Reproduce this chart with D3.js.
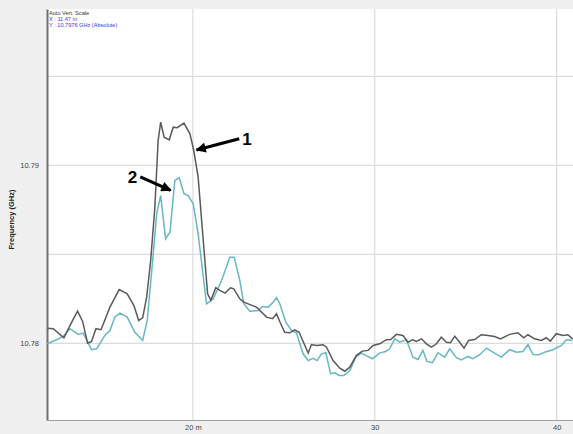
<!DOCTYPE html>
<html>
<head>
<meta charset="utf-8">
<script src="https://cdn.jsdelivr.net/npm/d3@7"></script>
<style>
  html, body { margin: 0; padding: 0; background: #f0f0f0; }
  svg { display: block; font-family: "Liberation Sans", Arial, sans-serif; }
</style>
</head>
<body>
<svg id="chart" width="573" height="434"></svg>
<script>
// Distance along the cable (m) and measured frequency (GHz)
const trace1Distance = [11.99,12.32,12.91,13.34,13.66,13.94,14.21,14.43,14.67,14.95,15.44,15.95,16.39,16.76,17.02,17.24,17.46,17.68,17.91,18.09,18.23,18.42,18.70,18.92,19.14,19.51,19.84,20.05,20.29,20.57,20.81,20.99,21.26,21.48,21.77,22.07,22.25,22.58,22.80,23.50,24.05,24.38,24.60,24.80,25.05,25.33,25.60,25.84,26.34,26.52,26.80,27.16,27.35,27.71,28.08,28.35,28.63,28.99,29.32,29.63,29.91,30.27,30.64,30.88,31.19,31.55,31.83,32.07,32.29,32.57,32.84,33.12,33.39,33.66,33.94,34.16,34.40,34.67,34.91,35.16,35.49,35.86,36.23,36.59,36.91,37.42,37.87,38.19,38.42,38.79,39.16,39.43,39.65,39.98,40.35,40.62,40.88];
const trace1Freq = [10.78086,10.78083,10.78032,10.78120,10.78181,10.78124,10.78002,10.78011,10.78083,10.78077,10.78204,10.78303,10.78279,10.78213,10.78129,10.78144,10.78260,10.78466,10.78764,10.79140,10.79243,10.79159,10.79144,10.79215,10.79212,10.79238,10.79178,10.79084,10.78934,10.78579,10.78279,10.78242,10.78313,10.78298,10.78283,10.78313,10.78307,10.78251,10.78232,10.78204,10.78148,10.78139,10.78167,10.78118,10.78063,10.78060,10.78077,10.78063,10.77946,10.77994,10.77989,10.77993,10.77979,10.77904,10.77861,10.77844,10.77867,10.77933,10.77957,10.77961,10.77989,10.77998,10.78021,10.78022,10.78051,10.78045,10.78007,10.78021,10.78011,10.78026,10.77998,10.77979,10.77998,10.78035,10.78007,10.78004,10.78041,10.78007,10.77974,10.78017,10.78022,10.78049,10.78045,10.78039,10.78026,10.78051,10.78060,10.78032,10.78049,10.78026,10.78017,10.78032,10.78013,10.78055,10.78045,10.78049,10.78026];

const trace2Distance = [11.99,12.51,12.87,13.24,13.70,13.97,14.43,14.71,15.16,15.44,15.71,15.99,16.39,16.81,17.24,17.49,17.79,18.01,18.23,18.50,18.74,19.01,19.25,19.51,19.74,20.02,20.29,20.75,21.12,21.58,22.03,22.27,22.58,22.80,23.13,23.59,23.83,24.14,24.41,24.60,24.78,25.11,25.42,25.70,26.06,26.34,26.61,26.83,27.07,27.31,27.57,27.80,28.04,28.30,28.63,28.96,29.27,29.58,29.87,30.27,30.60,30.82,31.10,31.37,31.74,32.10,32.38,32.65,32.87,33.17,33.48,33.85,34.12,34.49,34.76,35.13,35.40,35.77,36.14,36.50,36.96,37.42,37.79,38.15,38.42,38.70,39.03,39.34,39.80,40.26,40.53,40.88];
const trace2Freq = [10.77998,10.78021,10.78039,10.78083,10.78051,10.78058,10.77965,10.77970,10.78045,10.78073,10.78148,10.78170,10.78148,10.78063,10.78017,10.78129,10.78466,10.78729,10.78831,10.78588,10.78625,10.78916,10.78931,10.78841,10.78831,10.78785,10.78616,10.78223,10.78251,10.78354,10.78485,10.78485,10.78354,10.78223,10.78181,10.78185,10.78208,10.78204,10.78232,10.78257,10.78223,10.78120,10.78073,10.78058,10.77942,10.77904,10.77917,10.77904,10.77942,10.77948,10.77830,10.77835,10.77820,10.77820,10.77848,10.77923,10.77946,10.77929,10.77914,10.77946,10.77955,10.77970,10.78026,10.78007,10.78021,10.77923,10.77910,10.77961,10.77899,10.77892,10.77948,10.77923,10.77970,10.77920,10.77908,10.77927,10.77914,10.77937,10.77974,10.77951,10.77923,10.77965,10.77951,10.77955,10.77993,10.77938,10.77937,10.77951,10.77965,10.77989,10.78021,10.78017];

const xTickValues = [20, 30, 40];
const xTickLabels = ["20 m", "30", "40"];
const yGridValues = [10.78, 10.785, 10.79, 10.795];
const yTickValues = [10.78, 10.79];
const yTickLabels = ["10.78", "10.79"];

// Callout arrows: label, tail and tip in data units
const calloutLabels = ["1", "2"];
const calloutTails = [[22.55, 10.79150], [17.11, 10.78936]];
const calloutTips = [[20.20, 10.79087], [18.78, 10.78860]];

const infoLines = ["Auto Vert. Scale", "X : 11.47 m", "Y : 10.7976 GHz (Absolute)"];

const svg = d3.select("#chart");
const plot = { left: 47, right: 573, top: 9, bottom: 420 };

const x = d3.scaleLinear().domain([11.98, 40.9]).range([plot.left, plot.right]);
const y = d3.scaleLinear().domain([10.7757, 10.79879]).range([plot.bottom, plot.top]);

svg.append("defs").append("clipPath").attr("id", "plotClip")
  .append("rect").attr("x", plot.left).attr("y", plot.top)
  .attr("width", plot.right - plot.left).attr("height", plot.bottom - plot.top);

svg.append("defs").append("marker")
  .attr("id", "arrowHead").attr("viewBox", "0 0 10 10")
  .attr("refX", 9).attr("refY", 5)
  .attr("markerWidth", 4).attr("markerHeight", 3.2)
  .attr("orient", "auto")
  .append("path").attr("d", "M0,0 L10,5 L0,10 Z").attr("fill", "#000");

// white plotting area
svg.append("rect")
  .attr("x", plot.left).attr("y", plot.top)
  .attr("width", plot.right - plot.left).attr("height", plot.bottom - plot.top)
  .attr("fill", "#fff");

// grid
const grid = svg.append("g").attr("clip-path", "url(#plotClip)");
grid.selectAll("line.gx").data(xTickValues).join("line")
  .attr("x1", d => x(d)).attr("x2", d => x(d))
  .attr("y1", plot.top).attr("y2", plot.bottom)
  .attr("stroke", "#dcdcdc").attr("stroke-width", 1.2);
grid.selectAll("line.gy").data(yGridValues).join("line")
  .attr("x1", plot.left).attr("x2", plot.right)
  .attr("y1", d => y(d)).attr("y2", d => y(d))
  .attr("stroke", "#dcdcdc").attr("stroke-width", 1.2);

// x axis
const xAxis = d3.axisBottom(x).tickValues(xTickValues)
  .tickFormat((d, i) => xTickLabels[i]).tickSize(0).tickPadding(5);
const gx = svg.append("g").attr("transform", `translate(0,${plot.bottom})`).call(xAxis);
gx.select(".domain").attr("stroke", "#a0a0a0").attr("stroke-width", 1.2);
gx.selectAll("text").attr("font-size", 7.5).attr("fill", "#444");

// y axis
const yAxis = d3.axisLeft(y).tickValues(yTickValues)
  .tickFormat((d, i) => yTickLabels[i]).tickSize(0).tickPadding(8);
const gy = svg.append("g").attr("transform", `translate(${plot.left},0)`).call(yAxis);
gy.select(".domain").attr("stroke", "#707070").attr("stroke-width", 2);
gy.selectAll("text").attr("font-size", 7.5).attr("fill", "#444");

svg.append("text")
  .attr("transform", `translate(14,${(plot.top + plot.bottom) / 2 + 5}) rotate(-90)`)
  .attr("text-anchor", "middle")
  .attr("font-size", 7.5).attr("font-weight", "bold").attr("fill", "#222")
  .text("Frequency (GHz)");

// traces
const line = d3.line().x(d => x(d[0])).y(d => y(d[1]));
const lines = svg.append("g").attr("clip-path", "url(#plotClip)").attr("fill", "none");
lines.append("path")
  .datum(trace2Distance.map((d, i) => [d, trace2Freq[i]]))
  .attr("d", line).attr("stroke", "#66b8c2").attr("stroke-width", 1.5);
lines.append("path")
  .datum(trace1Distance.map((d, i) => [d, trace1Freq[i]]))
  .attr("d", line).attr("stroke", "#5a5a5a").attr("stroke-width", 1.5);

// callouts
const callouts = svg.append("g");
calloutLabels.forEach((lab, i) => {
  const [tx, ty] = calloutTails[i];
  const [hx, hy] = calloutTips[i];
  callouts.append("line")
    .attr("x1", x(tx)).attr("y1", y(ty)).attr("x2", x(hx)).attr("y2", y(hy))
    .attr("stroke", "#000").attr("stroke-width", 3.2)
    .attr("marker-end", "url(#arrowHead)");
  const dir = tx > hx ? 1 : -1;
  callouts.append("text")
    .attr("x", x(tx) + dir * 3).attr("y", y(ty) + 6)
    .attr("text-anchor", dir > 0 ? "start" : "end")
    .attr("font-size", 17).attr("font-weight", "bold").attr("fill", "#000")
    .text(lab);
});

// readout text in the corner
svg.append("g").selectAll("text").data(infoLines).join("text")
  .attr("x", plot.left + 2).attr("y", (d, i) => 14.5 + i * 6)
  .attr("font-size", 5.6)
  .attr("fill", (d, i) => i === 0 ? "#333" : "#2f3cf0")
  .text(d => d);
</script>
</body>
</html>
